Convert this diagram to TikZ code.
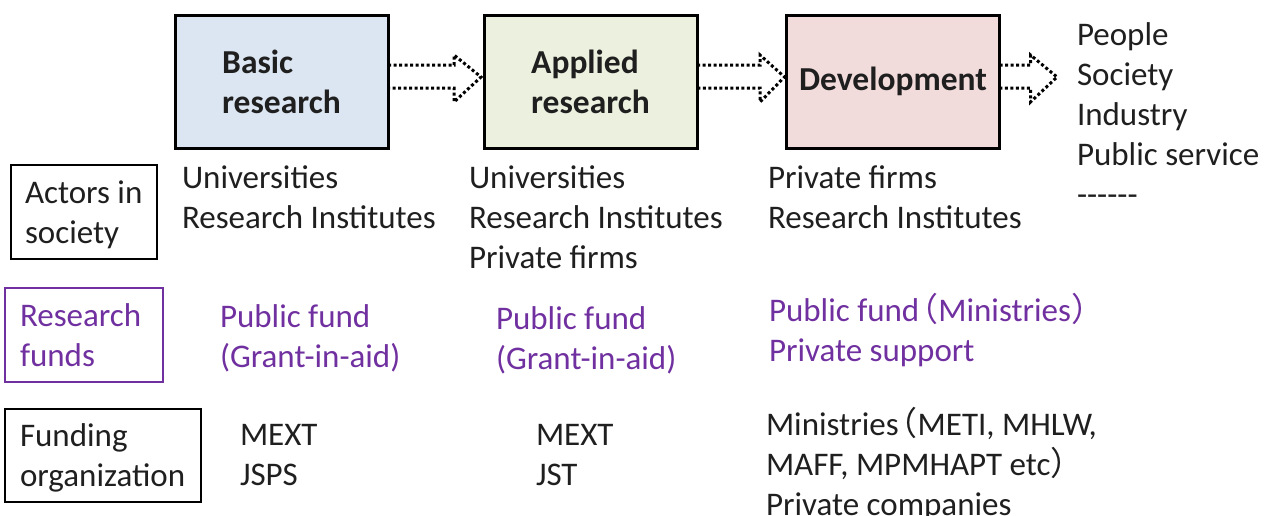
\documentclass[tikz,border=0pt]{standalone}
\usepackage{fontspec}
\setmainfont{Carlito}
\newfontfamily\cjkfont{Noto Sans CJK JP}
\usetikzlibrary{calc}
\definecolor{txt}{HTML}{1F1F1F}
\definecolor{purp}{HTML}{7030A0}
\definecolor{fblue}{HTML}{DCE6F2}
\definecolor{fgreen}{HTML}{EBF1DE}
\definecolor{fpink}{HTML}{F2DCDB}
\newcommand{\fwlp}{\hspace{-14pt}{\cjkfont （}}
\newcommand{\fwrp}{{\cjkfont ）}}
\begin{document}
\begin{tikzpicture}[x=1pt,y=-1pt,
  every node/.style={inner sep=0pt, outer sep=0pt, text=txt, font=\fontsize{33}{40}\selectfont},
  stagebox/.style={draw=black, line width=3pt, minimum width=213pt, minimum height=133pt, align=left, font=\fontsize{33.5}{40}\selectfont\bfseries},
  rowbox/.style={draw=black, line width=1.4pt},
  item/.style={anchor=base west, align=left},
  funditem/.style={item, text=purp},
  dotarr/.style={line width=3pt, dash pattern=on 3pt off 2.5pt, line join=miter}
]
\useasboundingbox (0,0) rectangle (1271,515);

% stage boxes
\node[stagebox, fill=fblue]  (basic) at (281.5,81.5) {Basic\\research};
\node[stagebox, fill=fgreen] (appl)  at (590.5,81.5) {Applied\\research};
\node[stagebox, fill=fpink]  (dev)   at (893,81.5)   {Development};
\coordinate (tip3) at (1057,77);

% dotted block arrows
\draw[dotarr] ($(basic.east)+(0,-16.5)$) -- ++(66,0) -- ++(0,-10) -- ($(appl.west)+(-3,-4.5)$)
  -- ($(basic.east)+(66,20.5)$) -- ++(0,-14) -- ($(basic.east)+(0,6.5)$);
\draw[dotarr] ($(appl.east)+(0,-16.5)$) -- ++(63,0) -- ++(0,-10) -- ($(dev.west)+(-2,-4.5)$)
  -- ($(appl.east)+(63,20.5)$) -- ++(0,-14) -- ($(appl.east)+(0,6.5)$);
\draw[dotarr] ($(dev.east)+(0,-16.5)$) -- ++(31,0) -- ++(0,-10) -- (tip3)
  -- ($(dev.east)+(31,20.5)$) -- ++(0,-14) -- ($(dev.east)+(0,6.5)$);

% outcomes (anchor = baseline of the last line)
\node[item] (outc) at (1077,205) {People\\Society\\Industry\\Public service\\-{}-{}-{}-{}-{}-};

% row headers
\node[rowbox, minimum width=146pt, minimum height=94pt] (actbox) at (84,212) {};
\node[item] (acttext) at (25,243) {Actors in\\society};
\node[rowbox, draw=purp, minimum width=158pt, minimum height=94pt] (fundbox) at (84,335) {};
\node[funditem] (fundtext) at (20,366) {Research\\funds};
\node[rowbox, minimum width=196pt, minimum height=93pt] (orgbox) at (103,455.5) {};
\node[item] (orgtext) at (20,486) {Funding\\organization};

% actors
\node[item] (act1) at (182,228) {Universities\\Research Institutes};
\node[item] (act2) at (469,268) {Universities\\Research Institutes\\Private firms};
\node[item] (act3) at (768,228) {Private firms\\Research Institutes};

% funds
\node[funditem] (fund1) at (220,367) {Public fund\\(Grant-in-aid)};
\node[funditem] (fund2) at (496,369) {Public fund\\(Grant-in-aid)};
\node[funditem] (fund3) at (769,361) {Public fund\fwlp Ministries\fwrp\\Private support};

% funding organizations
\node[item] (org1) at (240,485) {MEXT\\JSPS};
\node[item] (org2) at (536,485) {MEXT\\JST};
\node[item] (org3) at (766,515) {Ministries\fwlp METI, MHLW,\\MAFF, MPMHAPT etc\fwrp\\Private companies};
\end{tikzpicture}
\end{document}
